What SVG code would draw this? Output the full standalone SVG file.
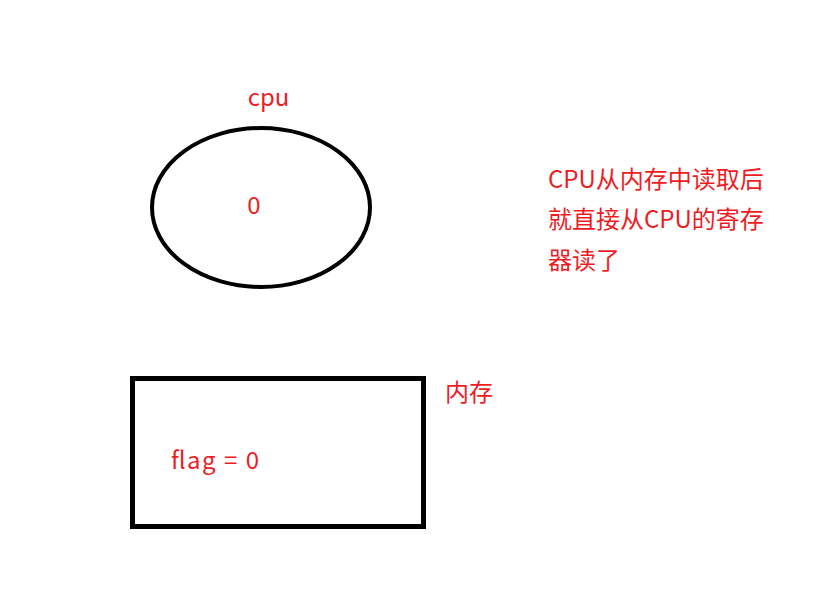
<svg xmlns="http://www.w3.org/2000/svg" width="838" height="606" viewBox="0 0 838 606">
<style>
.t{font-family:"Noto Sans CJK SC","Liberation Sans",sans-serif;fill:#ee1c25;font-size:24px}
.s{fill:none;stroke:#000}
</style>
<rect width="838" height="606" fill="#fff"/>
<g id="cpu">
<ellipse class="s" cx="261" cy="207.5" rx="109" ry="79.5" stroke-width="4"/>
<text class="t" x="268.5" y="106" text-anchor="middle">cpu</text>
<text class="t" x="254" y="214" text-anchor="middle">0</text>
</g>
<g id="memory">
<rect class="s" x="132.5" y="378.5" width="291" height="148" stroke-width="5"/>
<text class="t" x="171" y="469" textLength="88" lengthAdjust="spacing">flag = 0</text>
<text class="t" x="445" y="401" font-size="24.5">内存</text>
</g>
<g id="note">
<text class="t" x="548" y="188" font-size="25.3">CPU从内存中读取后</text>
<text class="t" x="548" y="228" font-size="25.3">就直接从CPU的寄存</text>
<text class="t" x="548" y="269" font-size="25.3">器读了</text>
</g>
<g id="connectors"></g>
</svg>
